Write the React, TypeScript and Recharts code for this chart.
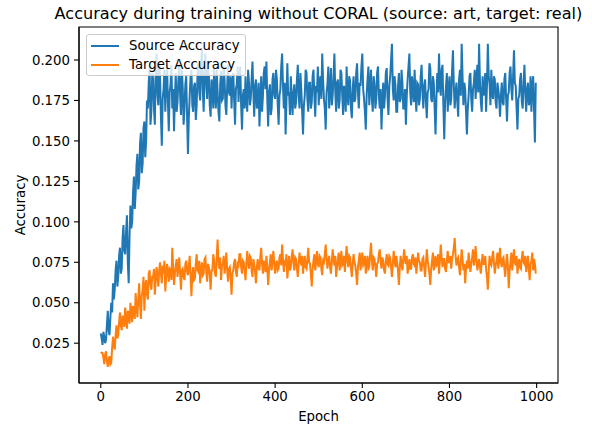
import { Legend, Line, LineChart, ReferenceArea, XAxis, YAxis } from "recharts";

// one sample every 2 epochs, epochs 0..998
const EPOCH_STEP = 2;

const sourceAccuracy = [
  0.031, 0.028, 0.024, 0.032, 0.029, 0.025, 0.027, 0.036, 0.045, 0.033, 0.030, 0.041, 0.050, 0.044, 0.062, 0.052, 0.058, 0.070, 0.076, 0.060,
  0.066, 0.079, 0.084, 0.068, 0.071, 0.090, 0.098, 0.082, 0.080, 0.094, 0.104, 0.075, 0.062, 0.092, 0.110, 0.096, 0.100, 0.118, 0.128, 0.108,
  0.118, 0.135, 0.142, 0.120, 0.125, 0.148, 0.155, 0.130, 0.136, 0.158, 0.162, 0.140, 0.150, 0.175, 0.170, 0.186, 0.196, 0.160, 0.168, 0.192,
  0.188, 0.170, 0.160, 0.195, 0.204, 0.178, 0.172, 0.198, 0.190, 0.165, 0.147, 0.176, 0.182, 0.194, 0.168, 0.185, 0.197, 0.174, 0.156, 0.180,
  0.185, 0.197, 0.170, 0.182, 0.156, 0.176, 0.192, 0.168, 0.174, 0.188, 0.198, 0.178, 0.166, 0.194, 0.183, 0.160, 0.170, 0.185, 0.190, 0.165,
  0.142, 0.165, 0.178, 0.190, 0.194, 0.172, 0.168, 0.184, 0.186, 0.163, 0.172, 0.192, 0.198, 0.180, 0.175, 0.196, 0.207, 0.182, 0.168, 0.190,
  0.204, 0.185, 0.176, 0.195, 0.190, 0.172, 0.165, 0.188, 0.184, 0.170, 0.196, 0.178, 0.170, 0.194, 0.181, 0.168, 0.162, 0.185, 0.193, 0.175,
  0.176, 0.196, 0.188, 0.172, 0.166, 0.184, 0.197, 0.180, 0.178, 0.190, 0.170, 0.186, 0.192, 0.175, 0.160, 0.182, 0.185, 0.196, 0.174, 0.188,
  0.196, 0.172, 0.157, 0.178, 0.182, 0.170, 0.190, 0.176, 0.168, 0.194, 0.186, 0.172, 0.176, 0.188, 0.199, 0.180, 0.165, 0.184, 0.188, 0.170,
  0.172, 0.186, 0.159, 0.175, 0.190, 0.168, 0.178, 0.192, 0.196, 0.182, 0.199, 0.176, 0.159, 0.180, 0.185, 0.166, 0.170, 0.188, 0.192, 0.178,
  0.176, 0.194, 0.188, 0.172, 0.160, 0.178, 0.182, 0.196, 0.204, 0.184, 0.170, 0.186, 0.154, 0.175, 0.198, 0.178, 0.180, 0.166, 0.190, 0.176,
  0.166, 0.180, 0.185, 0.170, 0.174, 0.188, 0.197, 0.178, 0.170, 0.192, 0.182, 0.168, 0.154, 0.172, 0.178, 0.194, 0.192, 0.176, 0.168, 0.186,
  0.186, 0.170, 0.174, 0.190, 0.194, 0.178, 0.165, 0.184, 0.180, 0.196, 0.172, 0.186, 0.190, 0.176, 0.204, 0.188, 0.176, 0.170, 0.157, 0.180,
  0.185, 0.196, 0.170, 0.182, 0.195, 0.172, 0.178, 0.190, 0.204, 0.180, 0.168, 0.186, 0.188, 0.170, 0.175, 0.194, 0.192, 0.178, 0.166, 0.184,
  0.180, 0.168, 0.196, 0.178, 0.172, 0.190, 0.187, 0.170, 0.164, 0.182, 0.190, 0.174, 0.176, 0.192, 0.198, 0.180, 0.170, 0.186, 0.184, 0.196,
  0.204, 0.182, 0.176, 0.168, 0.157, 0.178, 0.188, 0.196, 0.172, 0.184, 0.194, 0.176, 0.168, 0.190, 0.185, 0.170, 0.176, 0.192, 0.196, 0.178,
  0.170, 0.182, 0.157, 0.174, 0.186, 0.170, 0.178, 0.192, 0.195, 0.176, 0.166, 0.184, 0.190, 0.200, 0.210, 0.182, 0.175, 0.190, 0.184, 0.168,
  0.168, 0.184, 0.192, 0.174, 0.176, 0.194, 0.186, 0.170, 0.170, 0.182, 0.160, 0.178, 0.188, 0.196, 0.204, 0.180, 0.172, 0.190, 0.182, 0.174,
  0.194, 0.178, 0.168, 0.186, 0.185, 0.172, 0.176, 0.190, 0.197, 0.180, 0.170, 0.184, 0.188, 0.174, 0.164, 0.180, 0.182, 0.198, 0.195, 0.176,
  0.174, 0.190, 0.186, 0.170, 0.154, 0.176, 0.192, 0.180, 0.204, 0.186, 0.178, 0.194, 0.197, 0.172, 0.151, 0.174, 0.184, 0.192, 0.168, 0.182,
  0.190, 0.172, 0.176, 0.194, 0.206, 0.184, 0.170, 0.180, 0.186, 0.174, 0.165, 0.188, 0.194, 0.178, 0.210, 0.190, 0.172, 0.186, 0.182, 0.168,
  0.154, 0.170, 0.178, 0.190, 0.192, 0.176, 0.168, 0.182, 0.186, 0.194, 0.176, 0.188, 0.197, 0.180, 0.210, 0.186, 0.174, 0.168, 0.190, 0.178,
  0.180, 0.192, 0.168, 0.184, 0.210, 0.190, 0.185, 0.172, 0.194, 0.180, 0.176, 0.190, 0.188, 0.174, 0.170, 0.186, 0.182, 0.176, 0.165, 0.178,
  0.186, 0.174, 0.172, 0.188, 0.192, 0.176, 0.162, 0.178, 0.180, 0.192, 0.196, 0.182, 0.175, 0.190, 0.206, 0.186, 0.184, 0.170, 0.157, 0.176,
  0.178, 0.188, 0.192, 0.174, 0.170, 0.186, 0.197, 0.180, 0.168, 0.182, 0.186, 0.172, 0.174, 0.190, 0.168, 0.184, 0.190, 0.170, 0.149, 0.186,
];

const targetAccuracy = [
  0.0195, 0.019, 0.019, 0.016, 0.012, 0.018, 0.020, 0.014, 0.0104, 0.015, 0.017, 0.012, 0.013, 0.022, 0.029, 0.024, 0.021, 0.030, 0.036, 0.028,
  0.030, 0.038, 0.044, 0.036, 0.033, 0.042, 0.040, 0.035, 0.047, 0.041, 0.034, 0.045, 0.043, 0.037, 0.050, 0.044, 0.038, 0.048, 0.046, 0.040,
  0.056, 0.048, 0.041, 0.052, 0.062, 0.050, 0.040, 0.054, 0.058, 0.066, 0.045, 0.060, 0.064, 0.055, 0.052, 0.068, 0.070, 0.061, 0.058, 0.066,
  0.066, 0.071, 0.055, 0.064, 0.072, 0.066, 0.060, 0.070, 0.075, 0.068, 0.062, 0.073, 0.068, 0.076, 0.057, 0.066, 0.074, 0.069, 0.063, 0.071,
  0.070, 0.064, 0.084, 0.072, 0.061, 0.068, 0.073, 0.077, 0.066, 0.071, 0.078, 0.068, 0.058, 0.070, 0.071, 0.066, 0.064, 0.074, 0.076, 0.069,
  0.067, 0.073, 0.079, 0.066, 0.054, 0.068, 0.072, 0.064, 0.065, 0.074, 0.080, 0.070, 0.069, 0.076, 0.062, 0.071, 0.075, 0.067, 0.068, 0.077,
  0.078, 0.069, 0.063, 0.074, 0.072, 0.067, 0.058, 0.070, 0.070, 0.080, 0.076, 0.068, 0.066, 0.078, 0.089, 0.075, 0.071, 0.078, 0.064, 0.073,
  0.074, 0.079, 0.068, 0.073, 0.081, 0.070, 0.063, 0.071, 0.072, 0.066, 0.055, 0.068, 0.070, 0.075, 0.077, 0.069, 0.066, 0.074, 0.073, 0.080,
  0.080, 0.072, 0.068, 0.076, 0.075, 0.070, 0.064, 0.074, 0.082, 0.075, 0.071, 0.079, 0.078, 0.070, 0.066, 0.077, 0.074, 0.069, 0.062, 0.072,
  0.077, 0.072, 0.070, 0.078, 0.084, 0.074, 0.068, 0.076, 0.073, 0.069, 0.079, 0.072, 0.061, 0.070, 0.075, 0.080, 0.070, 0.076, 0.082, 0.074,
  0.068, 0.074, 0.076, 0.070, 0.071, 0.078, 0.080, 0.073, 0.086, 0.077, 0.069, 0.075, 0.074, 0.080, 0.065, 0.072, 0.079, 0.070, 0.072, 0.078,
  0.083, 0.075, 0.070, 0.078, 0.077, 0.071, 0.066, 0.074, 0.081, 0.076, 0.073, 0.079, 0.068, 0.074, 0.079, 0.072, 0.071, 0.077, 0.084, 0.075,
  0.074, 0.068, 0.060, 0.071, 0.076, 0.080, 0.070, 0.075, 0.082, 0.074, 0.072, 0.079, 0.078, 0.071, 0.067, 0.076, 0.075, 0.080, 0.086, 0.077,
  0.071, 0.076, 0.079, 0.072, 0.068, 0.075, 0.083, 0.077, 0.073, 0.079, 0.066, 0.072, 0.077, 0.081, 0.070, 0.076, 0.082, 0.073, 0.074, 0.079,
  0.069, 0.077, 0.085, 0.076, 0.072, 0.079, 0.078, 0.071, 0.066, 0.074, 0.080, 0.075, 0.073, 0.068, 0.061, 0.072, 0.076, 0.081, 0.070, 0.077,
  0.081, 0.073, 0.074, 0.079, 0.068, 0.075, 0.079, 0.071, 0.072, 0.080, 0.087, 0.076, 0.070, 0.078, 0.077, 0.072, 0.066, 0.074, 0.075, 0.080,
  0.083, 0.076, 0.071, 0.078, 0.076, 0.070, 0.068, 0.075, 0.080, 0.074, 0.073, 0.079, 0.078, 0.072, 0.066, 0.074, 0.082, 0.076, 0.072, 0.079,
  0.075, 0.069, 0.061, 0.072, 0.079, 0.074, 0.070, 0.077, 0.083, 0.076, 0.074, 0.079, 0.068, 0.073, 0.077, 0.071, 0.071, 0.078, 0.080, 0.074,
  0.073, 0.078, 0.068, 0.074, 0.081, 0.076, 0.075, 0.070, 0.070, 0.077, 0.078, 0.072, 0.066, 0.075, 0.083, 0.076, 0.072, 0.068, 0.061, 0.071,
  0.076, 0.081, 0.070, 0.075, 0.079, 0.073, 0.074, 0.080, 0.068, 0.076, 0.086, 0.078, 0.072, 0.077, 0.077, 0.071, 0.069, 0.076, 0.082, 0.075,
  0.075, 0.079, 0.071, 0.077, 0.080, 0.084, 0.090, 0.079, 0.073, 0.077, 0.078, 0.072, 0.067, 0.075, 0.083, 0.077, 0.070, 0.074, 0.062, 0.071,
  0.076, 0.071, 0.081, 0.075, 0.069, 0.074, 0.078, 0.083, 0.073, 0.077, 0.085, 0.076, 0.070, 0.074, 0.077, 0.072, 0.068, 0.075, 0.080, 0.074,
  0.074, 0.079, 0.071, 0.066, 0.058, 0.070, 0.079, 0.074, 0.073, 0.078, 0.082, 0.075, 0.068, 0.073, 0.076, 0.081, 0.071, 0.077, 0.084, 0.075,
  0.072, 0.077, 0.078, 0.071, 0.066, 0.074, 0.080, 0.073, 0.059, 0.070, 0.075, 0.081, 0.070, 0.076, 0.083, 0.075, 0.073, 0.079, 0.068, 0.074,
  0.077, 0.072, 0.071, 0.078, 0.082, 0.075, 0.074, 0.079, 0.069, 0.073, 0.079, 0.071, 0.064, 0.074, 0.076, 0.081, 0.070, 0.077, 0.074, 0.068,
];

const epochTicks = [0, 200, 400, 600, 800, 1000];
const accuracyTicks = [0.025, 0.05, 0.075, 0.1, 0.125, 0.15, 0.175, 0.2];
const epochDomain: [number, number] = [-50, 1049];
const accuracyDomain: [number, number] = [0.0004, 0.2204];

const data = sourceAccuracy.map((source, i) => ({
  epoch: i * EPOCH_STEP,
  source,
  target: targetAccuracy[i],
}));

const FONT = "'DejaVu Sans', sans-serif";
const tickStyle = { fill: "#000", fontSize: 13.3, fontFamily: FONT };
const spine = { stroke: "#000", strokeWidth: 1.1 };

function LegendBox({ payload }: any) {
  return (
    <div
      style={{
        boxSizing: "border-box",
        width: 160,
        height: 42,
        paddingTop: 1,
        border: "1px solid #cccccc",
        borderRadius: 3,
        background: "rgba(255,255,255,0.8)",
        fontFamily: FONT,
        fontSize: 13.3,
        color: "#000",
      }}
    >
      {(payload || []).map((item: any) => (
        <div key={item.value} style={{ display: "flex", alignItems: "center", height: 19 }}>
          <span
            style={{ marginLeft: 4, width: 28, height: 2, background: item.color, display: "inline-block" }}
          />
          <span style={{ marginLeft: 10, lineHeight: "19px" }}>{item.value}</span>
        </div>
      ))}
    </div>
  );
}

export default function App() {
  return (
    <div style={{ position: "absolute", left: 0, top: 0, width: 592, height: 427, background: "#fff" }}>
      <LineChart
        width={592}
        height={427}
        data={data}
        margin={{ top: 27, right: 34, bottom: 0, left: 0 }}
      >
        <XAxis
          dataKey="epoch"
          type="number"
          domain={epochDomain}
          ticks={epochTicks}
          allowDataOverflow
          height={44}
          tick={tickStyle}
          tickSize={5}
          tickMargin={4}
          axisLine={spine}
          tickLine={spine}
          label={{ value: "Epoch", position: "insideBottom", offset: 6, fill: "#000", fontSize: 13.3, fontFamily: FONT }}
        />
        <YAxis
          type="number"
          domain={accuracyDomain}
          ticks={accuracyTicks}
          allowDataOverflow
          width={79}
          tick={tickStyle}
          tickSize={5}
          tickMargin={4}
          tickFormatter={(v: number) => v.toFixed(3)}
          axisLine={spine}
          tickLine={spine}
          label={{
            value: "Accuracy",
            angle: -90,
            position: "insideLeft",
            offset: 20,
            fill: "#000",
            fontSize: 13.3,
            fontFamily: FONT,
            style: { textAnchor: "middle" },
          }}
        />
        {/* frame around the plot area (top and right spines) */}
        <ReferenceArea
          x1={epochDomain[0]}
          x2={epochDomain[1]}
          y1={accuracyDomain[0]}
          y2={accuracyDomain[1]}
          fill="none"
          fillOpacity={0}
          stroke="#000"
          strokeWidth={1.1}
          ifOverflow="visible"
        />
        <Line
          dataKey="source"
          name="Source Accuracy"
          stroke="#1f77b4"
          strokeWidth={2}
          dot={false}
          activeDot={false}
          isAnimationActive={false}
        />
        <Line
          dataKey="target"
          name="Target Accuracy"
          stroke="#ff7f0e"
          strokeWidth={2}
          dot={false}
          activeDot={false}
          isAnimationActive={false}
        />
        <Legend
          layout="horizontal"
          verticalAlign="middle"
          align="center"
          content={<LegendBox />}
          wrapperStyle={{ position: "absolute", top: 34, left: 86, width: 160, height: 42 }}
        />
      </LineChart>
      <svg
        width={592}
        height={27}
        style={{ position: "absolute", left: 0, top: 0, pointerEvents: "none" }}
      >
        <text x={318.5} y={18.5} textAnchor="middle" fontSize={16.1} fontFamily={FONT} fill="#000">
          Accuracy during training without CORAL (source: art, target: real)
        </text>
      </svg>
    </div>
  );
}
